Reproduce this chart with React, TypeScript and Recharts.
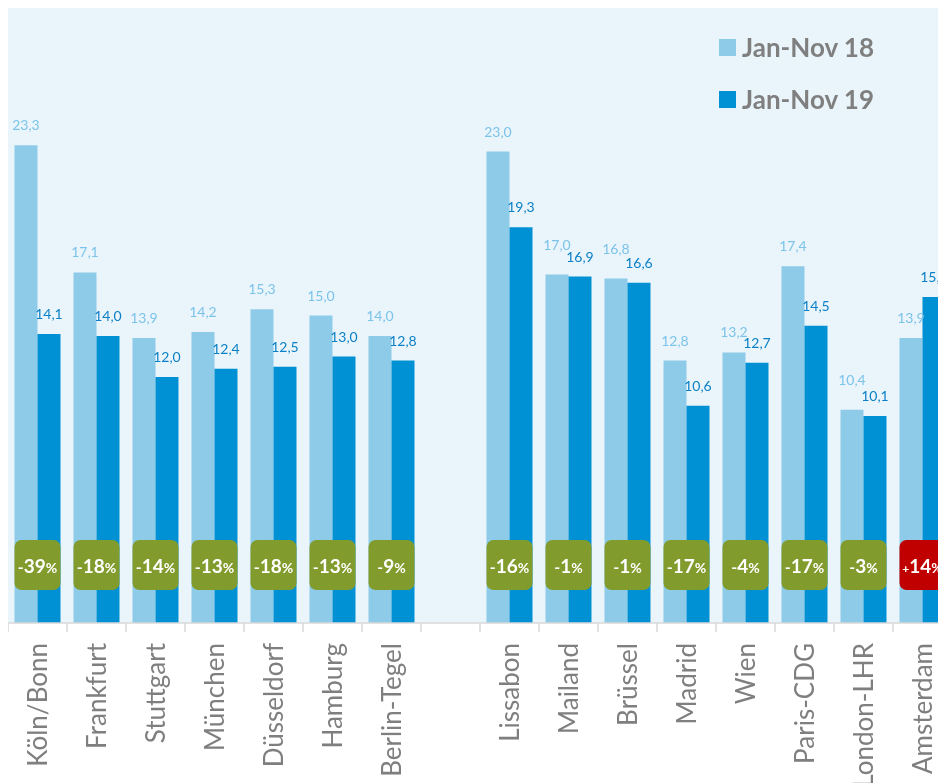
import React from 'react';
import { BarChart, Bar, XAxis, YAxis, CartesianGrid, Legend, LabelList } from 'recharts';

const categories = ['Köln/Bonn', 'Frankfurt', 'Stuttgart', 'München', 'Düsseldorf', 'Hamburg', 'Berlin-Tegel', '', 'Lissabon', 'Mailand', 'Brüssel', 'Madrid', 'Wien', 'Paris-CDG', 'London-LHR', 'Amsterdam'];
const jan18 = [23.3, 17.1, 13.9, 14.2, 15.3, 15.0, 14.0, null, 23.0, 17.0, 16.8, 12.8, 13.2, 17.4, 10.4, 13.9];
const jan19 = [14.1, 14.0, 12.0, 12.4, 12.5, 13.0, 12.8, null, 19.3, 16.9, 16.6, 10.6, 12.7, 14.5, 10.1, 15.9];
const changes = ['-39', '-18', '-14', '-13', '-18', '-13', '-9', null, '-16', '-1', '-1', '-17', '-4', '-17', '-3', '+14'];
const seriesNames = ['Jan-Nov 18', 'Jan-Nov 19'];

const data = categories.map((c, i) => ({ name: c, a: jan18[i], b: jan19[i], change: changes[i] }));

const LIGHT = '#8ecbe8';
const DARK = '#0090d4';
const LIGHT_TXT = '#7cc3ea';
const DARK_TXT = '#0b80c6';
const FONT = 'Lato, "Open Sans", sans-serif';
const SLOT = 59;

const fmt = (v: any) => (v == null ? '' : Number(v).toFixed(1).replace('.', ','));

const makeValueLabel = (color: string, raiseWhenClose: boolean) => (props: any) => {
  const { x, y, width, value } = props;
  if (value == null) return null;
  let lift = 0;
  if (raiseWhenClose) {
    const idx = Math.floor(Number(x) / SLOT);
    const a = jan18[idx];
    const b = jan19[idx];
    if (a != null && b != null && Math.abs(a - b) < 0.4) lift = 10;
  }
  return (
    <text x={x + width / 2} y={y - 15 - lift} textAnchor="middle" fill={color} fontSize={14} fontFamily={FONT}>
      {fmt(value)}
    </text>
  );
};

const Badge = (props: any) => {
  const { x, y, height, value } = props;
  if (value == null) return null;
  const bottom = y + height;
  const cx = x;
  const positive = String(value).startsWith('+');
  const sign = String(value).charAt(0);
  const digits = String(value).slice(1);
  return (
    <g>
      <rect x={cx - 23} y={bottom - 83} width={46} height={50} rx={7} ry={7} fill={positive ? '#c00000' : '#829b2d'} />
      <text x={cx} y={bottom - 50} textAnchor="middle" fill="#ffffff" fontFamily={FONT} fontWeight={700}>
        <tspan fontSize={positive ? 12 : 16}>{sign}</tspan>
        <tspan fontSize={19}>{digits}</tspan>
        <tspan fontSize={14}>%</tspan>
      </text>
    </g>
  );
};

const Tick = (props: any) => {
  const { x, y, payload } = props;
  return (
    <g>
      <line x1={x - SLOT / 2} x2={x - SLOT / 2} y1={y} y2={y + 9} stroke="#d9d9d9" strokeWidth={1.5} />
      <text
        x={x}
        y={y + 20}
        dy="0.36em"
        transform={`rotate(-90, ${x}, ${y + 20})`}
        textAnchor="end"
        fill="#7f7f7f"
        fontSize={26}
        fontFamily={FONT}
      >
        {payload.value}
      </text>
    </g>
  );
};

const renderLegend = (props: any) => {
  const { payload } = props;
  return (
    <div style={{ fontFamily: FONT }}>
      {(payload || []).map((p: any, i: number) => (
        <div key={i} style={{ display: 'flex', alignItems: 'center', height: 52 }}>
          <div style={{ width: 17, height: 17, background: p.color, marginRight: 6 }} />
          <span style={{ fontSize: 26, fontWeight: 700, color: '#7f7f7f' }}>{p.value}</span>
        </div>
      ))}
    </div>
  );
};

export default function App() {
  return (
    <div style={{ position: 'fixed', left: 8, top: 8, width: 930, height: 775, overflow: 'hidden' }}>
      <BarChart
        width={944}
        height={775}
        data={data}
        margin={{ top: 0, right: 0, bottom: 0, left: 0 }}
        barCategoryGap="11%"
        barGap={0}
      >
        <CartesianGrid horizontal={false} vertical={false} fill="#eaf5fb" stroke="none" />
        <YAxis hide domain={[0, 30]} />
        <XAxis
          dataKey="name"
          height={160}
          interval={0}
          tickLine={false}
          tickSize={0}
          tickMargin={0}
          axisLine={{ stroke: '#d9d9d9', strokeWidth: 1.5 }}
          tick={<Tick />}
        />
        <Legend
          layout="vertical"
          verticalAlign="middle"
          align="center"
          content={renderLegend}
          wrapperStyle={{ position: 'absolute', left: 711, top: 13, width: 220 }}
        />
        <Bar dataKey="a" name={seriesNames[0]} fill={LIGHT} isAnimationActive={false}>
          <LabelList dataKey="a" content={makeValueLabel(LIGHT_TXT, true)} />
        </Bar>
        <Bar dataKey="b" name={seriesNames[1]} fill={DARK} isAnimationActive={false}>
          <LabelList dataKey="b" content={makeValueLabel(DARK_TXT, false)} />
          <LabelList dataKey="change" content={<Badge />} />
        </Bar>
      </BarChart>
    </div>
  );
}
